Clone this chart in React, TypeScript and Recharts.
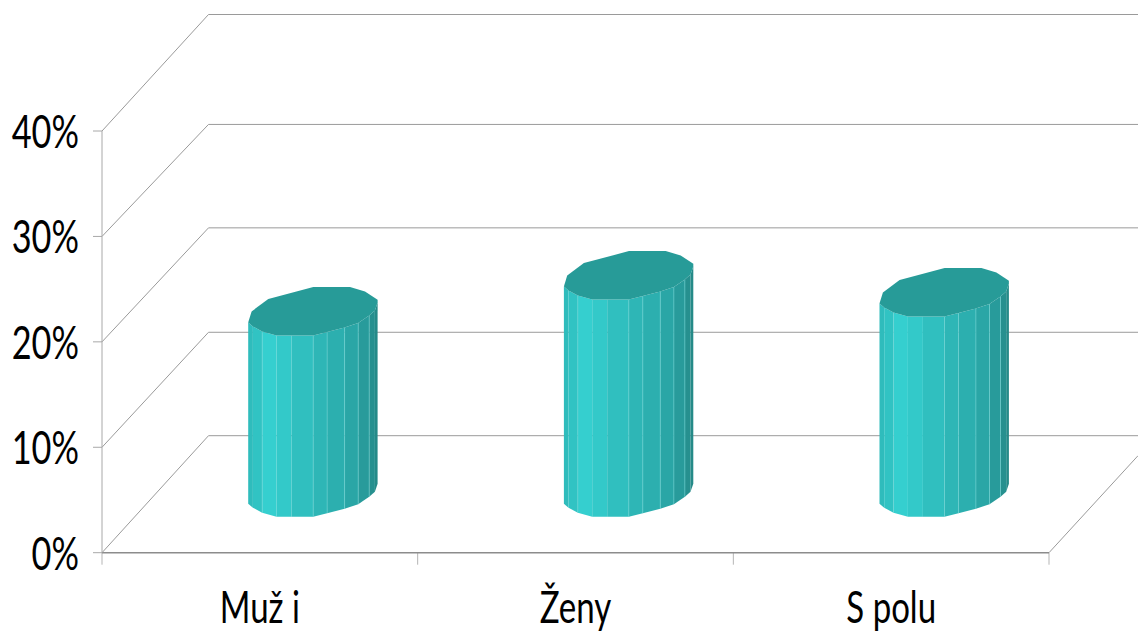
import React from 'react';
import { BarChart, Bar, XAxis, YAxis, usePlotArea } from 'recharts';

const categories = ['Muž i', 'Ženy', 'S polu'];
const values = [17.2, 20.6, 19.0];
const yTicks = [0, 10, 20, 30, 40];

const TEAL_TOP = '#279b98';
const GRID = '#9a9a9a';
// 3D look: depth of the floor and where the cylinder stands on it
const DEPTH_X = 106.5;
const DEPTH_Y = [117, 115, 114, 112, 116.5]; // back wall rise per tick, not quite even in the original
const BAR_SHIFT_X = 53.2;
const BAR_SHIFT_Y = 36;
const BAR_W = 129.4;

// cylinder facets: x as fraction of the width, dy = rise of the front edge
const FACET_X = [0, 0.036, 0.108, 0.219, 0.335, 0.502, 0.61, 0.745, 0.85, 0.935, 0.979, 1];
const FACET_DY = [13, 9, 4, 0, 0, 0, 3.5, 8, 12.5, 20, 25, 33];
const FACET_FILL = ['#2fbcbc', '#31c3c3', '#35cfcf', '#33c9c9', '#30bfbf', '#2eb6b6', '#2cafaf', '#2aa6a6', '#289b9b', '#26908f', '#258a88'];
const LIGHT_EDGES = [2, 5, 6, 7, 8, 9];
// back half of the top face, going from the right edge to the left edge
const BACK_X = [1, 0.903, 0.787, 0.503, 0.155, 0.026];
const BACK_DY = [35.7, 44, 48.4, 48.4, 36.4, 24];

const fmt = (pts: number[][]) => pts.map(p => `${p[0].toFixed(1)},${p[1].toFixed(1)}`).join(' ');

const CylinderShape = (props: any) => {
    const left = props.x + BAR_SHIFT_X;
    const top = props.y - BAR_SHIFT_Y;
    const bottom = props.y + props.height - BAR_SHIFT_Y;
    const w = props.width;
    const xs = FACET_X.map(f => left + f * w);
    return (
        <g>
            {FACET_FILL.map((fill, i) => (
                <polygon
                    key={i}
                    fill={fill}
                    points={fmt([
                        [xs[i], top - FACET_DY[i]],
                        [xs[i + 1], top - FACET_DY[i + 1]],
                        [xs[i + 1], bottom - FACET_DY[i + 1]],
                        [xs[i], bottom - FACET_DY[i]],
                    ])}
                />
            ))}
            {LIGHT_EDGES.map(i => (
                <line key={i} x1={xs[i]} x2={xs[i]} y1={top - FACET_DY[i]} y2={bottom - FACET_DY[i]} stroke="#6fd6d6" strokeOpacity={0.55} />
            ))}
            <polygon
                fill={TEAL_TOP}
                points={fmt([
                    ...xs.map((x, i) => [x, top - FACET_DY[i]]),
                    ...BACK_X.map((f, i) => [left + f * w, top - BACK_DY[i]]),
                ])}
            />
        </g>
    );
};

// back wall, left wall and floor of the 3D box
const Frame = () => {
    const plot = usePlotArea();
    if (!plot) return null;
    const bottom = plot.y + plot.height;
    const right = plot.x + plot.width;
    const yOf = (v: number) => bottom - (v / 40) * plot.height;
    const band = plot.width / categories.length;
    return (
        <g fill="none" stroke={GRID}>
            {yTicks.map((v, i) => (
                <g key={v}>
                    <line x1={plot.x} y1={yOf(v)} x2={plot.x + DEPTH_X} y2={yOf(v) - DEPTH_Y[i]} />
                    <line x1={plot.x + DEPTH_X} y1={yOf(v) - DEPTH_Y[i]} x2={1138} y2={yOf(v) - DEPTH_Y[i]} />
                </g>
            ))}
            <line x1={right} y1={bottom} x2={right + 89} y2={bottom - 97} />
            {[0, 1, 2, 3].map(i => (
                <line key={i} x1={plot.x + i * band} x2={plot.x + i * band} y1={bottom} y2={bottom + 12} stroke="#b5b5b5" />
            ))}
        </g>
    );
};

const YTick = ({ x, y, payload }: any) => (
    <text transform={`translate(${x},${y + 17}) scale(0.73,1)`} textAnchor="end" fontFamily="Lato" fontSize={47} fill="#000">
        {payload.value}%
    </text>
);

const XTick = ({ x, y, payload }: any) => (
    <text transform={`translate(${x},${y + 64}) scale(0.75,1)`} textAnchor="middle" fontFamily="Lato" fontSize={44} fill="#000">
        {payload.value}
    </text>
);

const data = categories.map((name, i) => ({ name, value: values[i] }));

export default function App() {
    return (
        <div style={{ position: 'absolute', left: 0, top: 0, width: 1138, height: 636, background: '#fff' }}>
            <BarChart width={1138} height={636} data={data} margin={{ top: 131, right: 89, bottom: 0, left: 0 }} barSize={BAR_W}>
                <Frame />
                <XAxis
                    dataKey="name"
                    height={83.3}
                    axisLine={{ stroke: '#8c8c8c', strokeWidth: 1.5 }}
                    tickLine={false}
                    tickMargin={0}
                    tick={<XTick />}
                    interval={0}
                />
                <YAxis
                    width={102}
                    domain={[0, 40]}
                    ticks={yTicks}
                    axisLine={{ stroke: '#a8a8a8' }}
                    tickLine={{ stroke: '#a8a8a8' }}
                    tickSize={9}
                    tickMargin={14}
                    tick={<YTick />}
                />
                <Bar dataKey="value" isAnimationActive={false} shape={<CylinderShape />} />
            </BarChart>
        </div>
    );
}
